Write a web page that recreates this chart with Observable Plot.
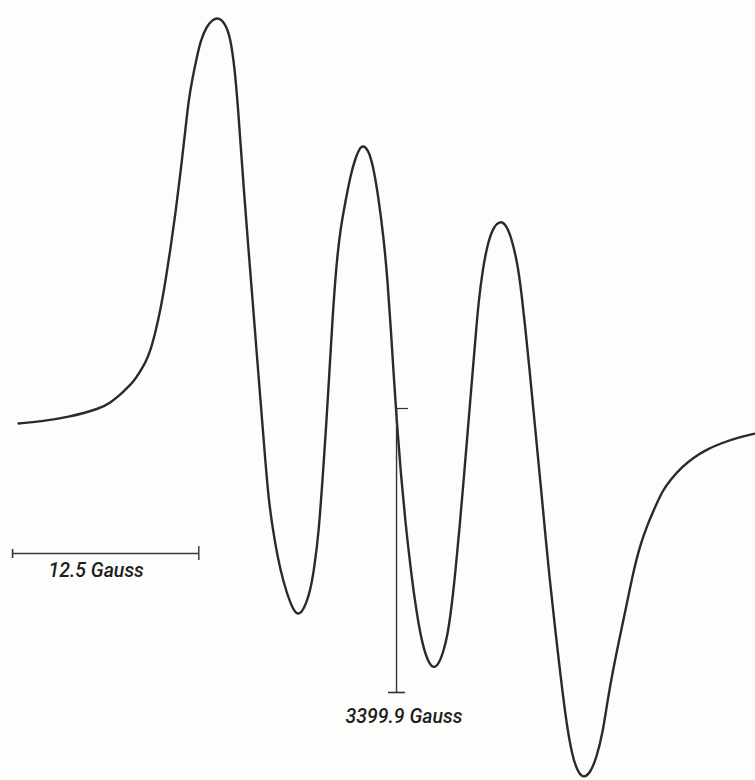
<!DOCTYPE html>
<html>
<head>
<meta charset="utf-8">
<script src="https://cdn.jsdelivr.net/npm/d3@7"></script>
<script src="https://cdn.jsdelivr.net/npm/@observablehq/plot@0.6"></script>
<style>
  html, body { margin: 0; padding: 0; background: #fdfdfb; }
  #chart svg { display: block; }
</style>
</head>
<body>
<div id="chart"></div>
<script>
// EPR derivative spectrum, field offset from the centre marker (Gauss)
const centerField = 3399.9;      // Gauss, marked line
const scaleBarLength = 12.5;     // Gauss
const fieldOffset = [
  -25.37, -23.89, -22.08, -19.87, -19.19, -18.52, -18.05, -17.65, -17.25, -16.85,
  -16.51, -16.17, -15.84, -15.50, -15.17, -14.83, -14.50, -14.16, -13.96, -13.69,
  -13.42, -13.15, -12.75, -12.35, -11.95, -11.54, -11.14, -10.87, -10.67, -10.20,
  -9.93, -9.66, -9.40, -9.13, -8.86, -8.59, -8.19, -7.79, -7.38, -6.98,
  -6.64, -6.24, -5.77, -5.50, -5.23, -4.97, -4.70, -4.50, -4.30, -4.03,
  -3.76, -3.42, -3.09, -2.75, -2.48, -2.28, -1.95, -1.61, -1.21, -0.87,
  -0.60, -0.40, -0.20, 0.00, 0.27, 0.60, 0.94, 1.21, 1.48, 1.81,
  2.15, 2.48, 2.82, 3.15, 3.42, 3.69, 3.96, 4.23, 4.50, 4.77,
  5.03, 5.30, 5.50, 5.77, 6.11, 6.51, 6.98, 7.38, 7.72, 8.12,
  8.39, 8.66, 8.93, 9.19, 9.46, 9.73, 9.99, 10.26, 10.54, 10.81,
  11.14, 11.48, 11.81, 12.15, 12.55, 13.02, 13.42, 13.83, 14.16, 14.56,
  15.03, 15.50, 15.91, 16.38, 16.85, 17.25, 17.85, 18.39, 19.19, 19.93,
  20.81, 21.74, 22.89, 24.09
];
// derivative signal, arbitrary units
const signal = [
  -3, -1, 3, 12, 18, 26, 33, 39, 48, 58,
  70, 89, 111, 140, 172, 208, 248, 292, 320, 343,
  362, 380, 394, 401, 403, 398, 383, 352, 320, 220,
  170, 120, 70, 20, -30, -80, -120, -150, -172, -188,
  -195, -190, -170, -145, -113, -60, 0, 50, 102, 158,
  192, 220, 245, 263, 272, 275, 272, 258, 223, 183,
  140, 95, 48, 2, -50, -103, -147, -178, -204, -228,
  -242, -248, -244, -231, -215, -187, -150, -107, -60, -12,
  35, 83, 118, 150, 177, 194, 200, 195, 182, 157,
  127, 90, 50, 10, -32, -73, -115, -156, -194, -230,
  -272, -310, -336, -351, -358, -352, -337, -313, -280, -247,
  -213, -180, -150, -123, -104, -90, -70, -59, -46, -37,
  -29, -23, -17, -13
];

const curve = fieldOffset.map((d, i) => ({field: centerField + d, signal: signal[i]}));

// annotations (data units)
const barStart = centerField - 25.77;
const barEnd = barStart + scaleBarLength;
const barSignal = -133;
const markerTop = 12;
const markerBottom = -272;
const labelFont = "Roboto, 'Liberation Sans', sans-serif";

const plot = Plot.plot({
  width: 755,
  height: 780,
  margin: 0,
  x: {domain: [centerField - 26.58, centerField + 24.09], axis: null},
  y: {domain: [-360, 420], axis: null},
  style: {background: "#fdfdfb"},
  marks: [
    // spectrum
    Plot.line(curve, {x: "field", y: "signal", curve: "basis", stroke: "#2a2a2a", strokeWidth: 2.4}),
    // scale bar
    Plot.ruleY([barSignal], {x1: barStart, x2: barEnd, stroke: "#3a3a3a", strokeWidth: 1.3}),
    Plot.ruleX([barStart], {y1: barSignal + 4, y2: barSignal - 5, stroke: "#333", strokeWidth: 1.6}),
    Plot.ruleX([barEnd], {y1: barSignal + 7, y2: barSignal - 7, stroke: "#333", strokeWidth: 1.4}),
    Plot.text(["12.5 Gauss"], {x: barStart + 2.41, y: barSignal - 17, text: d => d, textAnchor: "start",
      fontSize: 19.5, fontStyle: "italic", fontWeight: 500, fontFamily: labelFont, fill: "#1e1e1e"}),
    // centre marker
    Plot.ruleX([centerField], {y1: markerTop, y2: markerBottom - 1, stroke: "#333", strokeWidth: 1.4}),
    Plot.ruleY([markerTop], {x1: centerField, x2: centerField + 0.8, stroke: "#333", strokeWidth: 1.2}),
    Plot.ruleY([markerBottom], {x1: centerField - 0.54, x2: centerField + 0.6, stroke: "#333", strokeWidth: 1.6}),
    Plot.text(["3399.9 Gauss"], {x: centerField - 3.42, y: markerBottom - 24, text: d => d, textAnchor: "start",
      fontSize: 19.5, fontStyle: "italic", fontWeight: 500, fontFamily: labelFont, fill: "#1e1e1e"})
  ]
});
document.getElementById("chart").appendChild(plot);
</script>
</body>
</html>
